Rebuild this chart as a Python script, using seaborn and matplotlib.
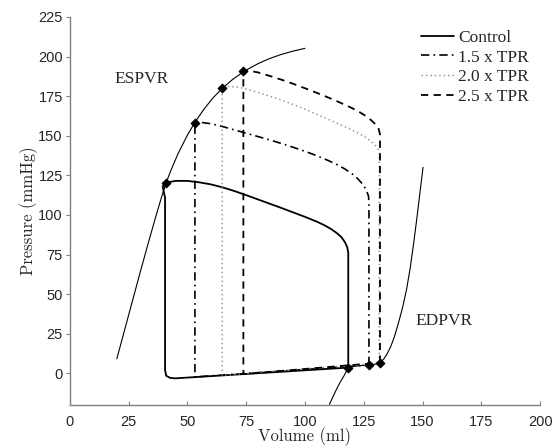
import matplotlib
matplotlib.use('Agg')
import matplotlib.pyplot as plt
import seaborn as sns

# end-systolic / end-diastolic pressure-volume relations
espvr_vol = [20, 25, 30, 34, 37, 39, 41, 43, 46, 50, 53.2, 57, 61, 64.8, 69, 73.8, 77,
             80, 84.5, 89.4, 94.5, 100]
espvr_p = [9.2, 36.7, 64.2, 85.6, 101.2, 111.2, 120.4, 128.2, 138.6, 150.4, 158.5,
           166.7, 174.1, 179.9, 185.3, 190.4, 193.1, 195.5, 198.5, 201.1, 203.3, 205.2]
edpvr_vol = [110.4, 112, 113.5, 115, 116.5, 117.6, 118.4, 121, 124, 127.2, 130, 131.9,
             133.5, 135, 136.5, 138, 139.7, 141.5, 143.2, 144.8, 146.2, 147.5, 148.8, 150.2]
edpvr_p = [-19.6, -14.5, -9.8, -5.5, -1.8, 1.2, 3.6, 4.4, 4.9, 5.2, 5.8, 6.7,
           9, 12.5, 17, 23, 31.5, 41.5, 53, 67, 82, 97, 113, 130]

# control loop
ctrl_vol = [118.4, 118.4, 118, 117, 115.5, 113.5, 111, 108, 105, 100, 95, 90, 85, 80,
            75, 70, 65, 60, 55, 50, 45, 40.9, 39.5, 39.9, 40.5, 40.5, 41, 42.5, 44.5, 118.4]
ctrl_p = [3.6, 76.2, 79.5, 82.8, 86, 88.6, 91.2, 93.7, 95.8, 98.8, 101.6, 104.4, 107.1,
          109.8, 112.5, 115.1, 117.4, 119.3, 120.6, 121.5, 121.5, 120.4, 118, 115, 111,
          2, -1.5, -2.8, -3.2, 3.6]

# 1.5 x TPR
tpr15_vol = [127.2, 127.2, 127, 126, 124.5, 122.5, 120, 117, 114, 110, 105, 100, 95, 90,
             85, 80, 75, 70, 65, 60, 56, 53.2, 53.2, 127.2]
tpr15_p = [5.2, 108, 112, 116, 119.5, 122.8, 126, 129, 131.5, 134.3, 137.4, 140.2,
           142.7, 145.1, 147.4, 149.5, 151.6, 153.7, 155.8, 157.6, 158.4, 158.3, -2.3, 5.2]

# 2.0 x TPR
tpr20_vol = [131.6, 131.6, 131.2, 130, 128, 125.5, 122.5, 119, 115, 110, 105, 100, 95,
             90, 85, 80, 76, 72, 68, 64.8, 64.8, 131.6]
tpr20_p = [6.5, 139, 141.3, 143.8, 146.5, 149.3, 151.8, 154.3, 157, 160.3, 163.6, 166.8,
           169.7, 172.5, 175, 177.4, 179.2, 180.6, 181.2, 180.4, -1.3, 6.5]

# 2.5 x TPR
tpr25_vol = [131.9, 131.9, 131.3, 130, 128, 125.5, 122.5, 119, 115, 110, 105, 100, 95,
             90, 85, 80, 76, 73.8, 73.8, 131.9]
tpr25_p = [6.7, 151, 154.5, 157.2, 160, 162.8, 165.6, 168.2, 170.9, 174.1, 177.1, 180,
           182.8, 185.4, 187.8, 190, 191.2, 190.8, -0.5, 6.7]

# end-systolic and end-diastolic points
mark_vol = [40.9, 53.2, 64.8, 73.8, 118.4, 127.2, 131.9]
mark_p = [120.4, 158.3, 180.4, 190.8, 3.6, 5.2, 6.7]

x_ticks = [0, 25, 50, 75, 100, 125, 150, 175, 200]
y_ticks = [0, 25, 50, 75, 100, 125, 150, 175, 200, 225]


def main():
    sns.set_style('ticks')
    plt.rcParams['font.family'] = ['Liberation Sans', 'DejaVu Sans']
    fig = plt.figure(figsize=(5.54, 4.47), dpi=100)
    ax = fig.add_axes([0.126, 0.094, 0.849, 0.868])

    # relations
    sns.lineplot(x=espvr_vol, y=espvr_p, sort=False, estimator=None, ax=ax,
                 color='k', linewidth=0.8)
    sns.lineplot(x=edpvr_vol, y=edpvr_p, sort=False, estimator=None, ax=ax,
                 color='k', linewidth=0.8)

    # loops
    sns.lineplot(x=ctrl_vol, y=ctrl_p, sort=False, estimator=None, ax=ax,
                 color='k', linewidth=1.3, label='Control')
    sns.lineplot(x=tpr15_vol, y=tpr15_p, sort=False, estimator=None, ax=ax,
                 color='k', linewidth=1.2, linestyle=(0, (5, 2.5, 1, 2.5)),
                 label='1.5 x TPR')
    sns.lineplot(x=tpr20_vol, y=tpr20_p, sort=False, estimator=None, ax=ax,
                 color='#8a8a8a', linewidth=1.0, linestyle=(0, (1, 2.2)),
                 label='2.0 x TPR')
    sns.lineplot(x=tpr25_vol, y=tpr25_p, sort=False, estimator=None, ax=ax,
                 color='k', linewidth=1.3, linestyle=(0, (4, 3)),
                 label='2.5 x TPR')

    sns.scatterplot(x=mark_vol, y=mark_p, ax=ax, marker='D', s=22,
                    color='k', edgecolor='k', linewidth=0.5, zorder=5)

    ax.text(19, 186, 'ESPVR', family='Liberation Serif', fontsize=12.5,
            va='center', ha='left')
    ax.text(147, 33, 'EDPVR', family='Liberation Serif', fontsize=12.5,
            va='center', ha='left')

    ax.set_xlim(0, 200)
    ax.set_ylim(-20, 225)
    ax.set_xticks(x_ticks)
    ax.set_yticks(y_ticks)
    ax.tick_params(axis='x', direction='in', length=3, pad=7, labelsize=10.5,
                   color='#808080')
    ax.tick_params(axis='y', direction='out', length=3, pad=2, labelsize=10.5,
                   color='#808080')
    for side in ['top', 'right']:
        ax.spines[side].set_visible(False)
    for side in ['left', 'bottom']:
        ax.spines[side].set_color('#808080')
        ax.spines[side].set_linewidth(1.0)

    ax.set_xlabel('Volume (ml)', family='cmr10', fontsize=12, labelpad=-1)
    ax.set_ylabel('Pressure (mmHg)', family='cmr10', fontsize=12, labelpad=0)

    ax.legend(loc='upper right', bbox_to_anchor=(0.99, 0.985), frameon=False,
              prop={'family': 'Liberation Serif', 'size': 12.5},
              handlelength=1.9, handletextpad=0.2, labelspacing=0.2,
              borderaxespad=0)

    fig.savefig('out.png', dpi=100)
    plt.close(fig)


if __name__ == '__main__':
    main()
